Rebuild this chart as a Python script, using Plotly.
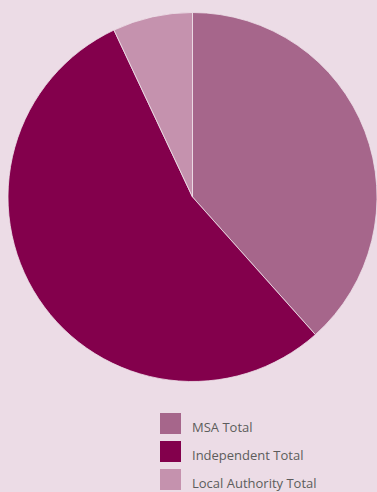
import plotly.graph_objects as go

labels = ["MSA Total", "Independent Total", "Local Authority Total"]
values = [38.4, 54.6, 7.0]
colors = ["#a6668b", "#83004c", "#c592ae"]

W, H = 377, 492
bg = "#ecdce6"

fig = go.Figure(
    go.Pie(
        labels=labels,
        values=values,
        sort=False,
        direction="clockwise",
        rotation=0,
        textinfo="none",
        hoverinfo="label+percent",
        marker=dict(colors=colors, line=dict(color="#efe2ea", width=0.8)),
        domain=dict(x=[8 / W, 1], y=[(H - 384) / H, (H - 10) / H]),
        showlegend=False,
    )
)

# Legend drawn as swatches plus labels below the pie
row_tops = [413, 441, 469]
shapes, annotations = [], []
for lab, col, top in zip(labels, colors, row_tops):
    shapes.append(dict(
        type="rect", xref="paper", yref="paper",
        x0=160 / W, x1=181 / W, y0=1 - (top + 21) / H, y1=1 - top / H,
        fillcolor=col, line=dict(width=0),
    ))
    annotations.append(dict(
        text=lab, xref="paper", yref="paper",
        x=190 / W, y=1 - (top + 14) / H, xanchor="left", yanchor="middle",
        showarrow=False, font=dict(family="Open Sans", size=13, color="#5c5c5c"),
    ))

fig.update_layout(
    width=W, height=H,
    margin=dict(l=0, r=0, t=0, b=0),
    paper_bgcolor=bg, plot_bgcolor=bg,
    shapes=shapes, annotations=annotations,
)

fig.write_html("out.html")
